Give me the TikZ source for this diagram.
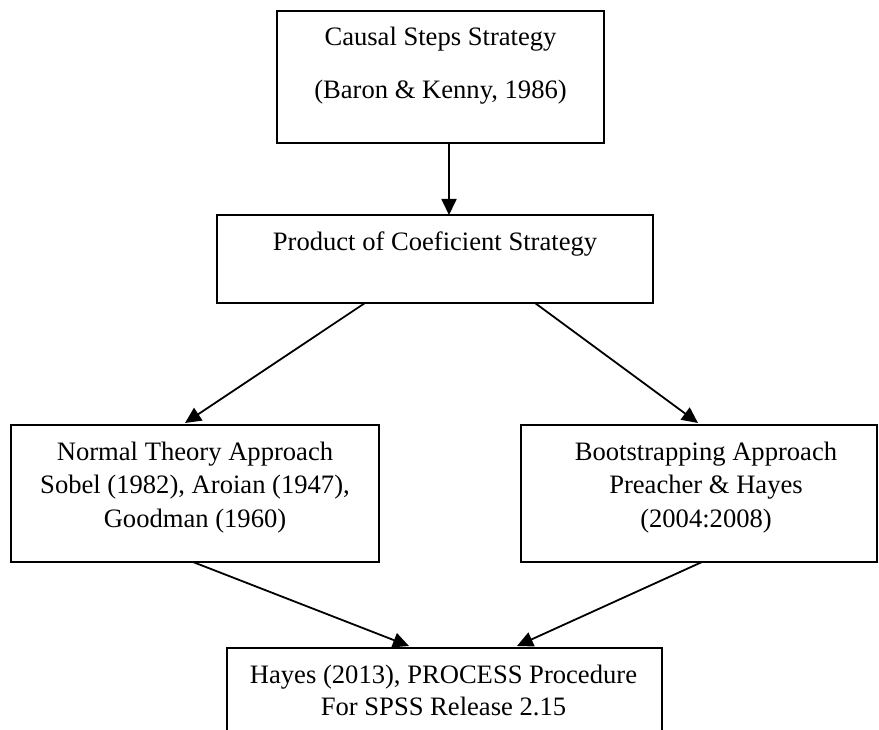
\documentclass[tikz,border=0pt]{standalone}
\usepackage{fontspec}
\setmainfont{Liberation Serif}
\usetikzlibrary{arrows.meta,calc}
\begin{document}
\begin{tikzpicture}[x=1pt,y=-1pt,
  box/.style={draw=black,line width=1.8pt,rectangle,inner sep=0pt,outer sep=0pt},
  txt/.style={anchor=base,align=center,inner sep=0pt,font=\fontsize{26.6}{33.3}\selectfont},
  conn/.style={draw=black,line width=1.8pt,-{Triangle[length=16pt,width=15pt]}}]
\useasboundingbox (0,0) rectangle (879,730);
\clip (0,0) rectangle (879,730);
% boxes
\node[box,minimum width=327pt,minimum height=132pt] (b1) at (440.5,77) {};
\node[box,minimum width=436pt,minimum height=88pt] (b2) at (435,259) {};
\node[box,minimum width=368pt,minimum height=137pt] (b3) at (195,493.5) {};
\node[box,minimum width=356pt,minimum height=137pt] (b4) at (699,493.5) {};
\node[box,minimum width=435pt,minimum height=112pt] (b5) at (444.5,704) {};
% texts (anchor base = baseline of the last line)
\node[txt,font=\fontsize{26.6}{53}\selectfont] (t1) at (440.5,99) {Causal Steps Strategy\\(Baron \& Kenny, 1986)};
\node[txt] (t2) at (435,250.5) {Product of Coeficient Strategy};
\node[txt] (t3) at (195,527) {Normal Theory Approach\\Sobel (1982), Aroian (1947),\\Goodman (1960)};
\node[txt] (t4) at (706,527) {Bootstrapping Approach\\Preacher \& Hayes\\(2004:2008)};
\node[txt,font=\fontsize{26.6}{32}\selectfont] (t5) at (443.5,715) {Hayes (2013), PROCESS Procedure\\For SPSS Release 2.15};
% connectors
\draw[conn] ([xshift=8.5pt]b1.south) -- ([xshift=14pt]b2.north);
\draw[conn] ([xshift=-70pt]b2.south) -- ([xshift=-10pt,yshift=2pt]b3.north);
\draw[conn] ([xshift=100pt]b2.south) -- ([xshift=-1pt,yshift=2pt]b4.north);
\draw[conn] ([xshift=-2pt]b3.south) -- ([xshift=-35.5pt,yshift=2pt]b5.north);
\draw[conn] ([xshift=3pt]b4.south) -- ([xshift=72.5pt,yshift=2pt]b5.north);
\end{tikzpicture}
\end{document}
